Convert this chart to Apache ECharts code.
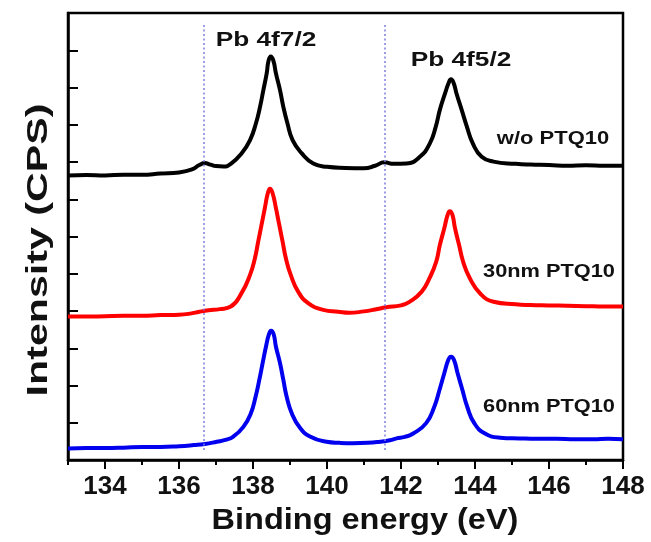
<!DOCTYPE html>
<html lang="en">
<head>
    <meta charset="UTF-8">
    <title>Pb 4f XPS</title>
    <style>
        html, body { margin: 0; padding: 0; background: #fff; }
        #chart { width: 651px; height: 542px; }
    </style>
</head>
<body>
<div id="chart"></div>
<script src="https://cdn.jsdelivr.net/npm/echarts@6/dist/echarts.min.js"></script>
<script>
    // values: [binding energy (eV), offset intensity]
    var wopData = [
        [133, 7.64], [133.5, 7.65], [134, 7.64], [134.5, 7.66], [135, 7.66], [135.5, 7.69], [136, 7.72],
        [136.35, 7.8], [136.55, 7.92], [136.7, 7.97], [136.85, 7.93], [137.0, 7.89], [137.2, 7.88],
        [137.4, 7.95], [137.69, 8.23], [137.92, 8.59], [138.08, 9.04], [138.19, 9.48], [138.28, 9.93],
        [138.37, 10.38], [138.42, 10.72], [138.48, 10.83], [138.55, 10.72], [138.62, 10.38], [138.73, 9.93],
        [138.82, 9.48], [138.93, 9.04],
        [139.07, 8.59], [139.32, 8.23], [139.63, 7.96], [140.0, 7.87], [140.5, 7.84], [141.0, 7.83],
        [141.3, 7.9], [141.55, 7.99], [141.8, 7.95], [142.15, 7.96], [142.51, 8.14], [142.78, 8.5],
        [142.94, 8.95], [143.05, 9.4], [143.19, 9.84], [143.29, 10.13], [143.35, 10.22], [143.42, 10.13],
        [143.5, 9.84], [143.64, 9.4],
        [143.78, 8.95], [143.94, 8.5], [144.18, 8.14], [144.5, 8.01], [145.1, 7.95], [145.5, 7.93],
        [146, 7.92], [146.5, 7.9], [147, 7.91], [147.5, 7.9], [148, 7.9]
    ];
    var nm30Data = [
        [133, 3.85], [133.5, 3.85], [134, 3.86], [134.5, 3.87], [135, 3.87], [135.5, 3.89], [136, 3.9],
        [136.3, 3.93], [136.55, 3.98], [136.8, 4.02], [137.1, 4.05], [137.4, 4.12], [137.69, 4.48],
        [137.92, 4.97], [138.05, 5.41], [138.14, 5.86], [138.23, 6.31], [138.32, 6.76], [138.40, 7.16],
        [138.46, 7.28], [138.53, 7.16],
        [138.62, 6.76], [138.71, 6.31], [138.8, 5.86], [138.89, 5.41], [139.02, 4.97], [139.22, 4.52],
        [139.49, 4.21], [139.9, 4.03], [140.3, 3.98], [140.6, 3.95], [141.0, 3.99], [141.3, 4.04],
        [141.6, 4.1], [142.0, 4.15], [142.24, 4.25], [142.56, 4.52], [142.77, 4.88], [142.95, 5.32],
        [143.05, 5.77], [143.17, 6.22], [143.26, 6.58], [143.32, 6.68], [143.39, 6.58], [143.46, 6.22],
        [143.57, 5.77], [143.68, 5.32],
        [143.86, 4.88], [144.14, 4.47], [144.5, 4.25], [145.1, 4.18], [145.5, 4.16], [146, 4.15],
        [146.5, 4.14], [147, 4.13], [147.5, 4.12], [148, 4.12]
    ];
    var nm60Data = [
        [133, 0.31], [133.5, 0.32], [134, 0.32], [134.5, 0.33], [135, 0.35], [135.5, 0.35], [136, 0.37],
        [136.4, 0.4], [136.7, 0.43], [137.02, 0.49], [137.25, 0.54], [137.47, 0.63], [137.74, 0.89],
        [137.94, 1.25], [138.07, 1.7], [138.17, 2.15], [138.26, 2.6], [138.35, 3.04], [138.43, 3.37],
        [138.49, 3.47], [138.56, 3.37],
        [138.62, 3.04], [138.73, 2.6], [138.82, 2.15], [138.91, 1.7], [139.05, 1.25], [139.25, 0.89],
        [139.54, 0.63], [139.99, 0.49], [140.35, 0.46], [140.7, 0.45], [141.1, 0.46], [141.43, 0.49],
        [141.7, 0.53], [141.88, 0.58], [142.1, 0.62], [142.33, 0.71], [142.68, 0.99], [142.9, 1.43],
        [143.04, 1.88], [143.17, 2.33], [143.28, 2.69], [143.35, 2.77], [143.43, 2.69], [143.53, 2.33],
        [143.66, 1.88], [143.79, 1.43],
        [143.98, 0.99], [144.27, 0.71], [144.68, 0.6], [145.2, 0.58], [145.7, 0.57], [146.2, 0.57],
        [146.7, 0.56], [147.2, 0.56], [147.6, 0.57], [148, 0.56]
    ];
    var xMajorTicks = [134, 136, 138, 140, 142, 144, 146, 148];
    var xMinorTicks = [133, 135, 137, 139, 141, 143, 145, 147];
    var refLineX = [136.68, 141.57];   // dotted guide lines
    var refLineY = [0.27, 11.68];

    var FONT = "'Liberation Sans', Arial, sans-serif";

    function guideLines() {
        return refLineX.map(function (x) {
            return [{coord: [x, refLineY[0]]}, {coord: [x, refLineY[1]]}];
        });
    }

    function curve(name, data, color, extra) {
        var s = {
            name: name,
            type: 'line',
            data: data,
            showSymbol: false,
            smooth: 0.5,
            lineStyle: {color: color, width: 4},
            z: 3
        };
        if (extra) s.markLine = extra;
        return s;
    }

    function label(text, x, y, size, sx, rot) {
        return {
            type: 'text', x: x, y: y, rotation: rot || 0, scaleX: sx || 1,
            style: {
                text: text, x: 0, y: 0, fill: '#111',
                font: 'bold ' + size + 'px ' + FONT,
                textAlign: 'center', textVerticalAlign: 'middle'
            }
        };
    }

    var chart = echarts.init(document.getElementById('chart'), null, {renderer: 'canvas'});
    chart.setOption({
        animation: false,
        backgroundColor: '#fff',
        grid: {
            left: 68, right: 28, top: 13, bottom: 82,
            show: true, borderColor: '#000', borderWidth: 2.5
        },
        xAxis: [{
            type: 'value', min: 133, max: 148,
            axisLine: {show: true, lineStyle: {color: '#000', width: 2.5}},
            axisTick: {show: true, inside: false, length: 9, customValues: xMajorTicks,
                lineStyle: {color: '#000', width: 2}},
            axisLabel: {show: true, customValues: xMajorTicks, margin: 14,
                color: '#111', fontFamily: FONT, fontWeight: 'bold', fontSize: 26},
            splitLine: {show: false}
        }, {
            type: 'value', min: 133, max: 148, position: 'bottom', gridIndex: 0,
            axisLine: {show: false},
            axisTick: {show: true, inside: false, length: 5, customValues: xMinorTicks,
                lineStyle: {color: '#000', width: 2}},
            axisLabel: {show: false},
            splitLine: {show: false}
        }],
        yAxis: {
            type: 'value', min: 0, max: 12, interval: 1,
            axisLine: {show: true, lineStyle: {color: '#000', width: 2.5}},
            axisTick: {show: true, inside: true, length: 10, lineStyle: {color: '#000', width: 2}},
            axisLabel: {show: false},
            splitLine: {show: false}
        },
        series: [
            curve('w/o PTQ10', wopData, '#000000', {
                silent: true, symbol: 'none',
                label: {show: false},
                lineStyle: {color: '#7d7de0', width: 1.5, type: [2, 2.5]},
                data: guideLines()
            }),
            curve('30nm PTQ10', nm30Data, '#ff0000'),
            curve('60nm PTQ10', nm60Data, '#0000ee')
        ],
        graphic: [
            label('Pb 4f7/2', 266, 40, 21, 1.25),
            label('Pb 4f5/2', 461, 60, 21, 1.25),
            label('w/o PTQ10', 553, 139, 18, 1.22),
            label('30nm PTQ10', 549, 272, 18, 1.21),
            label('60nm PTQ10', 549, 407, 18, 1.21),
            label('Binding energy (eV)', 365, 521, 29, 1.12),
            label('Intensity (CPS)', 39, 250, 29, 1.42, Math.PI / 2)
        ]
    });
</script>
</body>
</html>
